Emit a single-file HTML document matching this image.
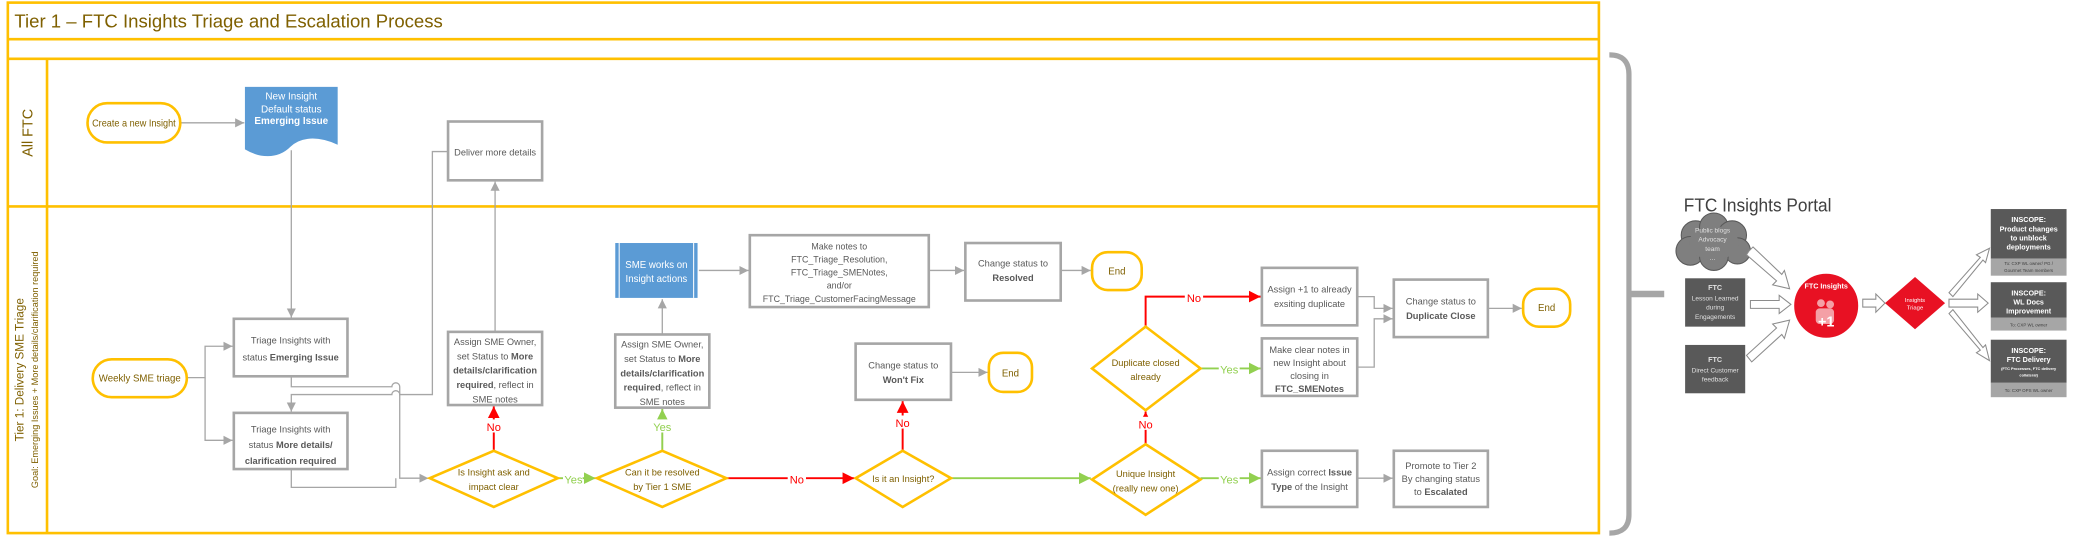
<!DOCTYPE html>
<html><head><meta charset="utf-8"><style>
html,body{margin:0;padding:0;background:#fff;}
svg{display:block;}
text{font-family:"Liberation Sans",sans-serif;}
</style></head><body>
<svg width="2077" height="537" viewBox="0 0 1590 411" preserveAspectRatio="none" xmlns="http://www.w3.org/2000/svg">
<defs>
<marker id="ag" markerUnits="userSpaceOnUse" markerWidth="8" markerHeight="8" refX="7" refY="4" orient="auto"><path d="M0,0.5 L7,4 L0,7.5z" fill="#a6a6a6"/></marker>
<marker id="ar" markerUnits="userSpaceOnUse" markerWidth="10" markerHeight="10" refX="9" refY="5" orient="auto"><path d="M0,0.5 L9,5 L0,9.5z" fill="#ff0000"/></marker>
<marker id="an" markerUnits="userSpaceOnUse" markerWidth="10" markerHeight="10" refX="9" refY="5" orient="auto"><path d="M0,0.5 L9,5 L0,9.5z" fill="#92d050"/></marker>
</defs>

<g fill="none" stroke="#ffc000" stroke-width="2">
<rect x="6" y="2" width="1218" height="406"/>
<line x1="6" y1="30" x2="1224" y2="30"/>
<line x1="6" y1="45" x2="1224" y2="45"/>
<line x1="6" y1="158" x2="1224" y2="158"/>
<line x1="36" y1="45" x2="36" y2="408"/>
</g>
<text x="11" y="21" font-size="14" fill="#7f6000" textLength="328" lengthAdjust="spacingAndGlyphs">Tier 1 – FTC Insights Triage and Escalation Process</text>
<text transform="translate(25,120) rotate(-90)" font-size="11" fill="#7f6000">All FTC</text>
<text transform="translate(18,283) rotate(-90)" font-size="9" fill="#7f6000" text-anchor="middle">Tier 1: Delivery SME Triage</text>
<text transform="translate(29,283) rotate(-90)" font-size="7" fill="#7f6000" text-anchor="middle">Goal: Emerging Issues + More details/clarification required</text>

<path d="M1232,42 Q1247,42 1247,57 L1247,394 Q1247,408 1232,408" fill="none" stroke="#a6a6a6" stroke-width="4"/>
<line x1="1247" y1="225" x2="1274" y2="225" stroke="#a6a6a6" stroke-width="5"/>

<g fill="none" stroke="#a6a6a6" stroke-width="1">
<line x1="138" y1="94" x2="187" y2="94" marker-end="url(#ag)"/>
<line x1="223" y1="115" x2="223" y2="243" marker-end="url(#ag)"/>
<path d="M143,289 H157 V265 H178" marker-end="url(#ag)"/>
<path d="M157,289 V337 H178" marker-end="url(#ag)"/>
<path d="M223,288 V296 H300 a3,3 0 0 1 6,0 V366 H328" marker-end="url(#ag)"/>
<path d="M343,116 H331 V302 H306 a3,3 0 0 0 -6,0 H223 V315" marker-end="url(#ag)"/>
<path d="M223,359 V373 H303 V366"/>
<line x1="379" y1="254" x2="379" y2="139" marker-end="url(#ag)"/>
<line x1="507" y1="256" x2="507" y2="229" marker-end="url(#ag)"/>
<line x1="535" y1="207" x2="573" y2="207" marker-end="url(#ag)"/>
<line x1="711" y1="207" x2="738" y2="207" marker-end="url(#ag)"/>
<line x1="812" y1="207" x2="835" y2="207" marker-end="url(#ag)"/>
<line x1="728" y1="285" x2="756" y2="285" marker-end="url(#ag)"/>
<path d="M1039,227 H1052 V236 H1066" marker-end="url(#ag)"/>
<path d="M1039,281 H1052 V244 H1066" marker-end="url(#ag)"/>
<line x1="1139" y1="236" x2="1165" y2="236" marker-end="url(#ag)"/>
<line x1="1039" y1="366" x2="1066" y2="366" marker-end="url(#ag)"/>
</g>

<g fill="none" stroke="#ff0000" stroke-width="1.5">
<line x1="378" y1="345" x2="378" y2="311" marker-end="url(#ar)"/>
<line x1="556" y1="366" x2="654" y2="366" marker-end="url(#ar)"/>
<line x1="691" y1="345" x2="691" y2="307" marker-end="url(#ar)"/>
<line x1="877" y1="340" x2="877" y2="315" marker-end="url(#ar)"/>
<path d="M877,250 V227 H965" marker-end="url(#ar)"/>
</g>
<g fill="none" stroke="#92d050" stroke-width="1.5">
<line x1="427" y1="366" x2="456" y2="366" marker-end="url(#an)"/>
<line x1="507" y1="345" x2="507" y2="313" marker-end="url(#an)"/>
<line x1="728" y1="366" x2="835" y2="366" marker-end="url(#an)"/>
<line x1="919" y1="282" x2="965" y2="282" marker-end="url(#an)"/>
<line x1="919" y1="366" x2="965" y2="366" marker-end="url(#an)"/>
</g>
<g font-size="8.5" text-anchor="middle">
<rect x="371" y="321" width="14" height="10" fill="#fff"/><text x="378" y="330" fill="#ff0000">No</text>
<rect x="500" y="321" width="16" height="10" fill="#fff"/><text x="507" y="330" fill="#92d050">Yes</text>
<rect x="431" y="362" width="15" height="9" fill="#fff"/><text x="439" y="370" fill="#92d050">Yes</text>
<rect x="603" y="362" width="14" height="9" fill="#fff"/><text x="610" y="370" fill="#ff0000">No</text>
<rect x="684" y="318" width="14" height="10" fill="#fff"/><text x="691" y="327" fill="#ff0000">No</text>
<rect x="870" y="319" width="14" height="10" fill="#fff"/><text x="877" y="328" fill="#ff0000">No</text>
<rect x="907" y="223" width="14" height="9" fill="#fff"/><text x="914" y="231" fill="#ff0000">No</text>
<rect x="933" y="278" width="16" height="9" fill="#fff"/><text x="941" y="286" fill="#92d050">Yes</text>
<rect x="933" y="362" width="16" height="9" fill="#fff"/><text x="941" y="370" fill="#92d050">Yes</text>
</g>

<g fill="#fff" stroke="#ffc000" stroke-width="2">
<rect x="67" y="79" width="71" height="30" rx="15"/>
<rect x="71" y="275" width="72" height="29" rx="14.5"/>
<rect x="836" y="193" width="38" height="29" rx="12"/>
<rect x="757" y="270" width="33" height="30" rx="11"/>
<rect x="1166" y="221" width="36" height="29" rx="12"/>
</g>
<g font-size="7.4" fill="#7f6000" text-anchor="middle">
<text x="102.5" y="97" textLength="64" lengthAdjust="spacingAndGlyphs">Create a new Insight</text>
<text x="107" y="292">Weekly SME triage</text>
<text x="855" y="210">End</text>
<text x="773.5" y="288">End</text>
<text x="1184" y="238">End</text>
</g>

<path d="M188,67 H258 V110 C240,102 228,106 222,112 C212,122 198,120 188,114 Z" fill="#5b9bd5" stroke="#5b9bd5"/>
<g font-size="7.6" fill="#fff" text-anchor="middle">
<text x="223" y="76">New Insight</text>
<text x="223" y="86">Default status</text>
<text x="223" y="95" font-weight="bold">Emerging Issue</text>
</g>
<rect x="471" y="186" width="63" height="42" fill="#5b9bd5"/>
<line x1="474" y1="186" x2="474" y2="228" stroke="#fff" stroke-width="0.8"/>
<line x1="531" y1="186" x2="531" y2="228" stroke="#fff" stroke-width="0.8"/>
<g font-size="7.4" fill="#fff" text-anchor="middle"><text x="502.5" y="205">SME works on</text><text x="502.5" y="216">Insight actions</text></g>

<g fill="#fff" stroke="#a6a6a6" stroke-width="2">
<rect x="343" y="93" width="72" height="45"/>
<rect x="179" y="244" width="87" height="44"/>
<rect x="179" y="316" width="87" height="43"/>
<rect x="343" y="254" width="72" height="56"/>
<rect x="471" y="256" width="72" height="56"/>
<rect x="574" y="180" width="137" height="55"/>
<rect x="739" y="186" width="73" height="44"/>
<rect x="655" y="263" width="73" height="43"/>
<rect x="966" y="205" width="73" height="44"/>
<rect x="966" y="259" width="73" height="44"/>
<rect x="1067" y="214" width="72" height="44"/>
<rect x="966" y="345" width="73" height="43"/>
<rect x="1067" y="345" width="72" height="43"/>
</g>
<g font-size="7.1" fill="#595959" text-anchor="middle">
<text x="379" y="119">Deliver more details</text>
<text x="222.5" y="263">Triage Insights with</text>
<text x="222.5" y="276">status <tspan font-weight="bold">Emerging Issue</tspan></text>
<text x="222.5" y="331">Triage Insights with</text>
<text x="222.5" y="343">status <tspan font-weight="bold">More details/</tspan></text>
<text x="222.5" y="355" font-weight="bold">clarification required</text>
<g><text x="379" y="264">Assign SME Owner,</text><text x="379" y="275">set Status to <tspan font-weight="bold">More</tspan></text><text x="379" y="286" font-weight="bold">details/clarification</text><text x="379" y="297"><tspan font-weight="bold">required</tspan>, reflect in</text><text x="379" y="308">SME notes</text></g>
<g><text x="507" y="266">Assign SME Owner,</text><text x="507" y="277">set Status to <tspan font-weight="bold">More</tspan></text><text x="507" y="288" font-weight="bold">details/clarification</text><text x="507" y="299"><tspan font-weight="bold">required</tspan>, reflect in</text><text x="507" y="310">SME notes</text></g>
<g font-size="6.8"><text x="642.5" y="191">Make notes to</text><text x="642.5" y="201">FTC_Triage_Resolution,</text><text x="642.5" y="211">FTC_Triage_SMENotes,</text><text x="642.5" y="221">and/or</text><text x="642.5" y="231">FTC_Triage_CustomerFacingMessage</text></g>
<text x="775.5" y="204">Change status to</text><text x="775.5" y="215" font-weight="bold">Resolved</text>
<text x="691.5" y="282">Change status to</text><text x="691.5" y="293" font-weight="bold">Won't Fix</text>
<text x="1002.5" y="224">Assign +1 to already</text><text x="1002.5" y="235">exsiting duplicate</text>
<text x="1002.5" y="270">Make clear notes in</text><text x="1002.5" y="280">new Insight about</text><text x="1002.5" y="290">closing in</text><text x="1002.5" y="300" font-weight="bold">FTC_SMENotes</text>
<text x="1103" y="233">Change status to</text><text x="1103" y="244" font-weight="bold">Duplicate Close</text>
<text x="1002.5" y="364">Assign correct <tspan font-weight="bold">Issue</tspan></text><text x="1002.5" y="375"><tspan font-weight="bold">Type</tspan> of the Insight</text>
<text x="1103" y="359">Promote to Tier 2</text><text x="1103" y="369">By changing status</text><text x="1103" y="379">to <tspan font-weight="bold">Escalated</tspan></text>
</g>

<g fill="#fff" stroke="#ffc000" stroke-width="2">
<polygon points="378,345 427,366 378,388 329,366"/>
<polygon points="507,345 556,366 507,388 457,366"/>
<polygon points="691,345 728,366 691,388 655,366"/>
<polygon points="877,340 919,367 877,394 836,367"/>
<polygon points="877,250 919,282 877,314 836,282"/>
</g>
<g font-size="7.1" fill="#7f6000" text-anchor="middle">
<text x="378" y="364">Is Insight ask and</text><text x="378" y="375">impact clear</text>
<text x="507" y="364">Can it be resolved</text><text x="507" y="375">by Tier 1 SME</text>
<text x="691.5" y="369">Is it an Insight?</text>
<text x="877" y="365">Unique Insight</text><text x="877" y="376">(really new one)</text>
<text x="877" y="280">Duplicate closed</text><text x="877" y="291">already</text>
</g>

<text x="1289" y="162" font-size="14" fill="#404040" textLength="113" lengthAdjust="spacingAndGlyphs">FTC Insights Portal</text>
<g fill="#7f7f7f" stroke="#595959" stroke-width="0.8">
<circle cx="1298" cy="180" r="11"/><circle cx="1312" cy="174" r="11"/><circle cx="1326" cy="180" r="11"/>
<circle cx="1294" cy="192" r="11"/><circle cx="1330" cy="192" r="10"/><circle cx="1312" cy="196" r="11"/>
</g>
<g fill="#7f7f7f"><ellipse cx="1312" cy="186" rx="19" ry="13"/></g>
<g font-size="5" fill="#e0e0e0" text-anchor="middle"><text x="1311" y="178">Public blogs</text><text x="1311" y="185">Advocacy</text><text x="1311" y="192">team</text><text x="1311" y="199">…</text></g>
<rect x="1290" y="213" width="46" height="37" fill="#595959"/>
<rect x="1290" y="264" width="46" height="37" fill="#595959"/>
<g font-size="5" fill="#e0e0e0" text-anchor="middle">
<text x="1313" y="222" font-weight="bold" font-size="5.5">FTC</text><text x="1313" y="230">Lesson Learned</text><text x="1313" y="237">during</text><text x="1313" y="244">Engagements</text>
<text x="1313" y="277" font-weight="bold" font-size="5.5">FTC</text><text x="1313" y="285">Direct Customer</text><text x="1313" y="292">feedback</text>
</g>
<g fill="#fff" stroke="#8c8c8c" stroke-width="0.8">
<polygon points="1339,192 1342,189 1364,210 1366,207 1370,221 1357,218 1360,215 1337,195"/>
<polygon points="1340,230 1362,230 1362,226 1371,233 1362,240 1362,236 1340,236"/>
<polygon points="1337,272 1360,251 1357,248 1370,245 1366,259 1364,256 1341,277"/>
<polygon points="1426,229 1436,229 1436,225 1443,232 1436,239 1436,235 1426,235"/>
<polygon points="1492,224 1516,197 1513,195 1523,190 1520,201 1518,199 1495,227"/>
<polygon points="1492,229 1514,229 1514,225 1522,232 1514,239 1514,235 1492,235"/>
<polygon points="1492,240 1495,237 1518,266 1520,264 1523,276 1513,270 1516,268"/>
</g>
<circle cx="1398" cy="234" r="25" fill="#e81123" stroke="#fff" stroke-width="1"/>
<text x="1398" y="221" font-size="5.5" fill="#fff" text-anchor="middle" font-weight="bold">FTC Insights</text>
<g fill="#f4a0a6"><circle cx="1394" cy="232" r="3"/><circle cx="1401" cy="233" r="3"/><rect x="1390" y="236" width="14" height="12" rx="3"/></g>
<text x="1398" y="250" font-size="11" fill="#fff" text-anchor="middle" font-weight="bold">+1</text>
<polygon points="1466,212 1489,232 1466,252 1443,232" fill="#e81123"/>
<g font-size="4.5" fill="#fff" text-anchor="middle"><text x="1466" y="231">Insights</text><text x="1466" y="237">Triage</text></g>
<rect x="1524" y="160" width="58" height="38" fill="#595959"/><rect x="1524" y="198" width="58" height="13" fill="#a6a6a6"/>
<rect x="1524" y="216" width="58" height="27" fill="#595959"/><rect x="1524" y="243" width="58" height="10" fill="#a6a6a6"/>
<rect x="1524" y="260" width="58" height="33" fill="#595959"/><rect x="1524" y="293" width="58" height="11" fill="#a6a6a6"/>
<g font-size="5.5" fill="#fff" text-anchor="middle" font-weight="bold">
<text x="1553" y="170">INSCOPE:</text><text x="1553" y="177">Product changes</text><text x="1553" y="184">to unblock</text><text x="1553" y="191">deployments</text>
<text x="1553" y="226">INSCOPE:</text><text x="1553" y="233">WL Docs</text><text x="1553" y="240">Improvement</text>
<text x="1553" y="270">INSCOPE:</text><text x="1553" y="277">FTC Delivery</text>
</g>
<g font-size="3.4" fill="#404040" text-anchor="middle">
<text x="1553" y="203">To: CXP WL owner/ PG /</text><text x="1553" y="208">Gourmet Team members</text>
<text x="1553" y="250">To: CXP WL owner</text>
<text x="1553" y="300">To: CXP OPS WL owner</text>
</g>
<text x="1553" y="283" font-size="3" fill="#fff" text-anchor="middle" font-weight="bold">(FTC Processes, FTC delivery</text>
<text x="1553" y="288" font-size="3" fill="#fff" text-anchor="middle" font-weight="bold">collateral)</text>
</svg>
</body></html>
